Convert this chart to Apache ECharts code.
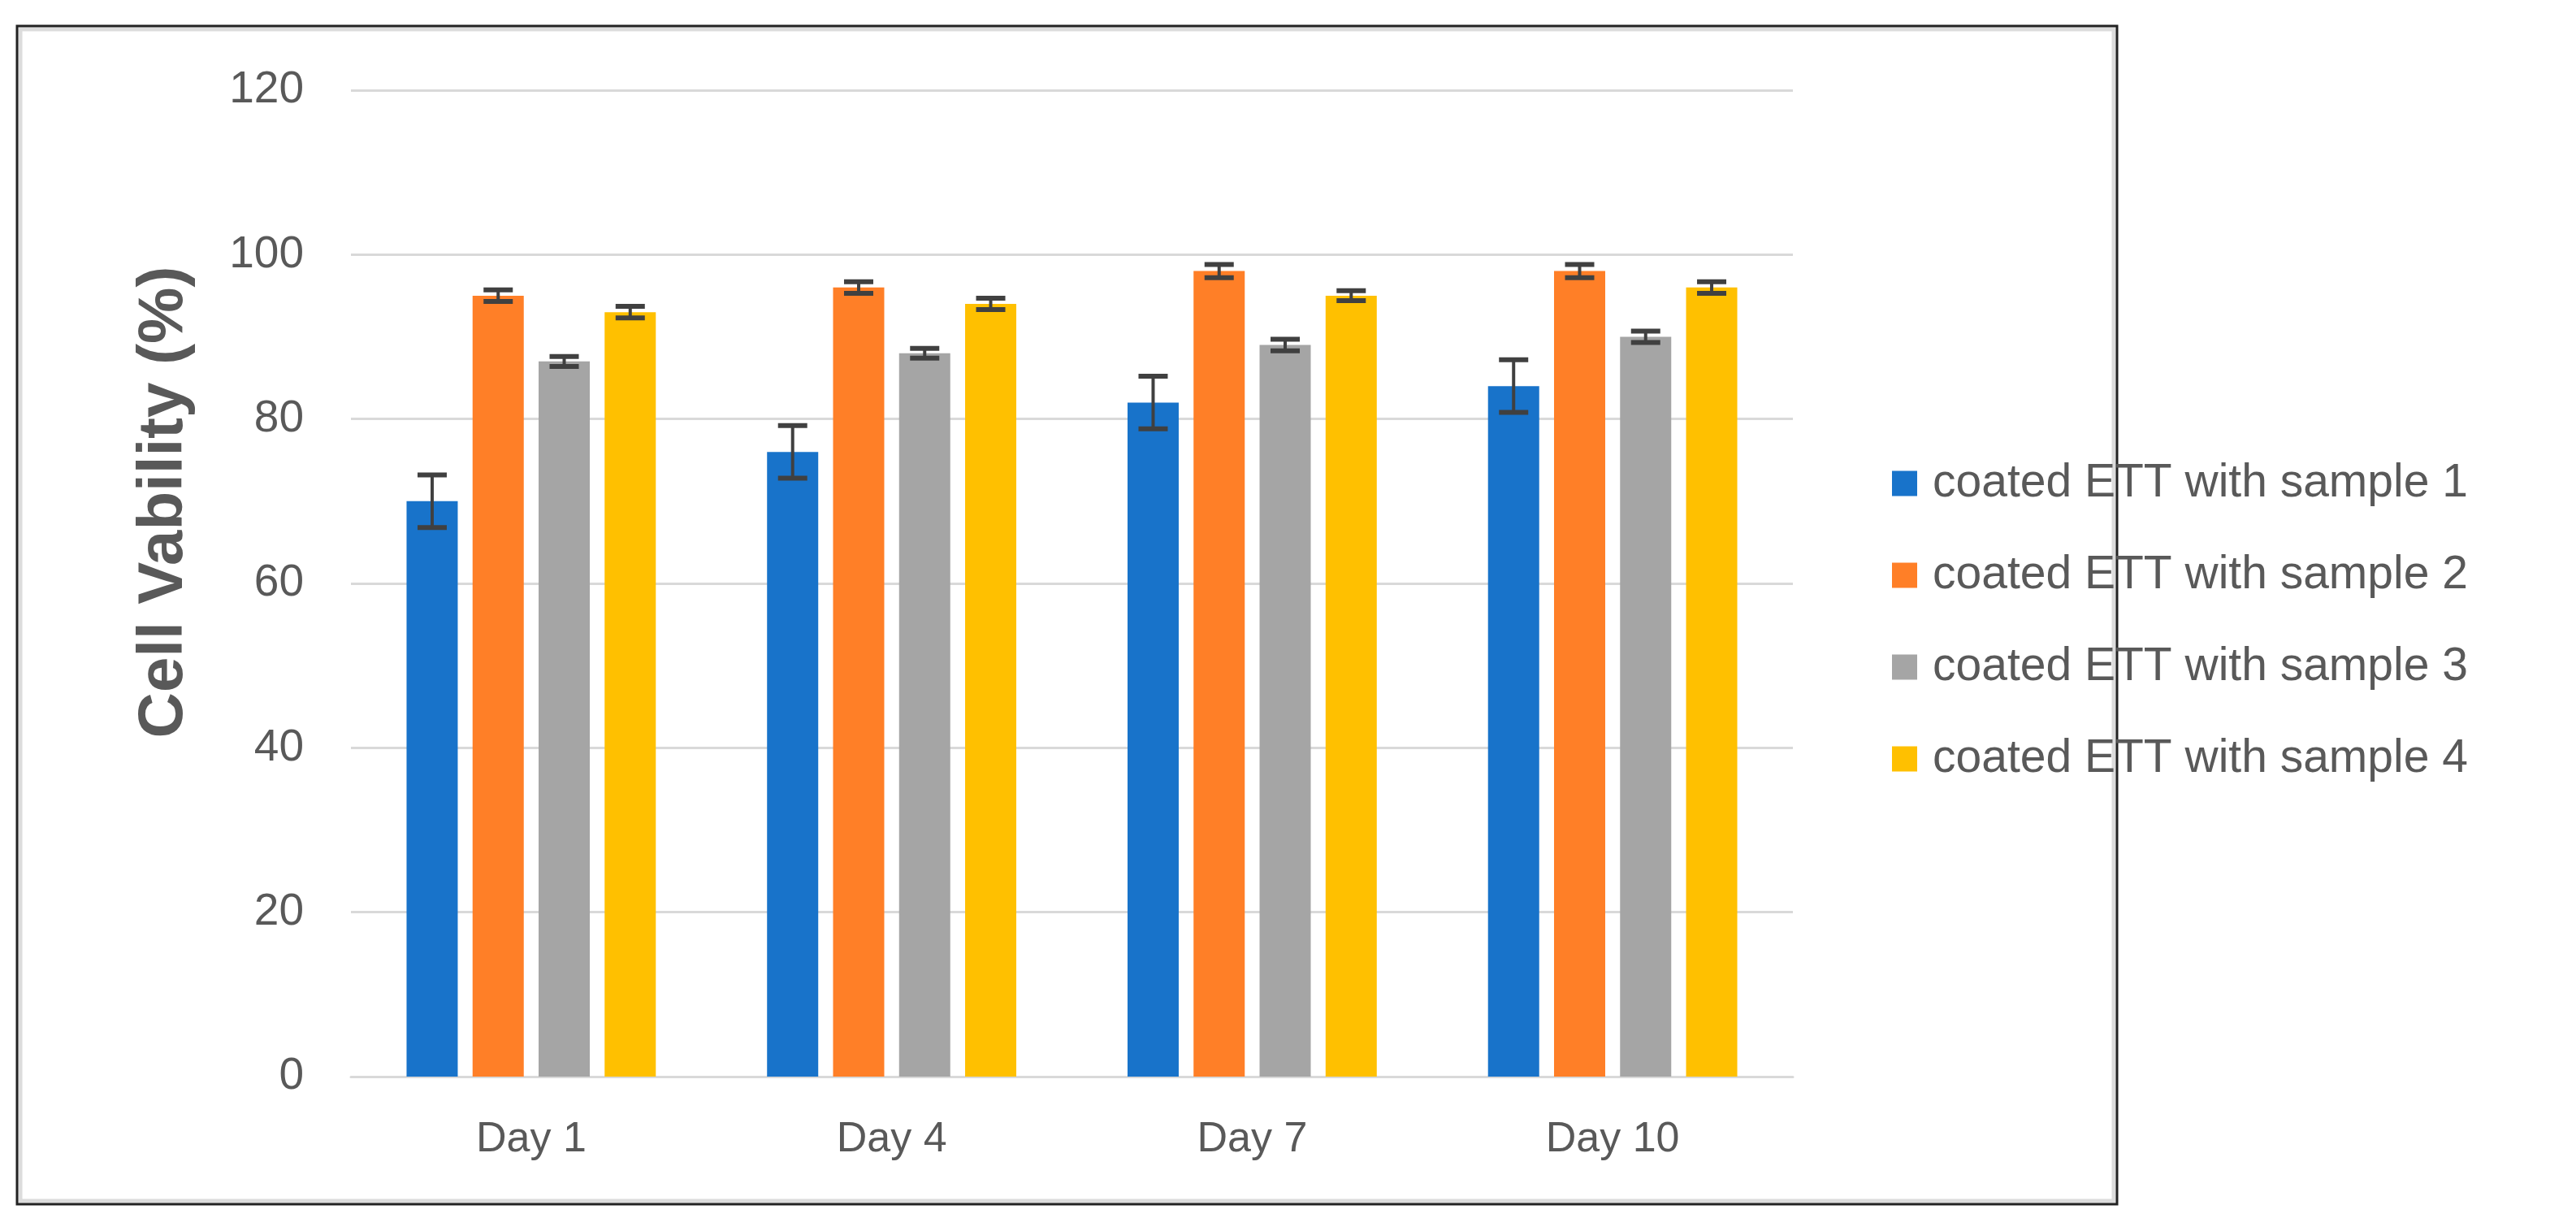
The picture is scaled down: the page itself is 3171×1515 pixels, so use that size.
<!DOCTYPE html>
<html>
<head>
<meta charset="utf-8">
<script src="https://cdn.jsdelivr.net/npm/echarts@6/dist/echarts.min.js"></script>
<style>
  html, body { margin: 0; padding: 0; background: #ffffff; }
  #chart { width: 3171px; height: 1515px; }
</style>
</head>
<body>
<div id="chart"></div>
<script>
// ---- data ----
const categories = ['Day 1', 'Day 4', 'Day 7', 'Day 10'];
const seriesNames = [
  'coated ETT with sample 1',
  'coated ETT with sample 2',
  'coated ETT with sample 3',
  'coated ETT with sample 4'
];
const sample1 = [70, 76, 82, 84];
const sample2 = [95, 96, 98, 98];
const sample3 = [87, 88, 89, 90];
const sample4 = [93, 94, 95, 96];
const err1 = [3.2, 3.2, 3.2, 3.2];
const err2 = [0.7, 0.7, 0.8, 0.8];
const err3 = [0.6, 0.6, 0.7, 0.7];
const err4 = [0.7, 0.7, 0.6, 0.7];
const yTicks = { min: 0, max: 120, interval: 20 };
const yTitle = 'Cell Vability (%)';

// ---- styles ----
const colors = ['#1873CA', '#FF7F27', '#A5A5A5', '#FFC000'];
const FONT = "'Liberation Sans', Arial, sans-serif";
const BAR_W = 63;
const BAR_GAP = 0.29;

const values = [sample1, sample2, sample3, sample4];
const errors = [err1, err2, err3, err4];

const chart = echarts.init(document.getElementById('chart'), null, { renderer: 'canvas' });

const barSeries = values.map((vals, i) => ({
  name: seriesNames[i],
  type: 'bar',
  data: vals,
  barWidth: BAR_W,
  barGap: (BAR_GAP * 100) + '%',
  itemStyle: { color: colors[i] },
  z: 2
}));

const errSeries = values.map((vals, i) => ({
  name: 'err' + (i + 1),
  type: 'custom',
  z: 5,
  silent: true,
  encode: { x: 0, y: 1 },
  data: vals.map((v, k) => [k, v, errors[i][k]]),
  renderItem: function (params, api) {
    const c = api.value(0), v = api.value(1), e = api.value(2);
    const hi = api.coord([c, v + e]);
    const lo = api.coord([c, v - e]);
    const step = BAR_W * (1 + BAR_GAP);
    const cx = hi[0] + (i - 1.5) * step;
    const half = 18;
    return {
      type: 'group',
      children: [
        { type: 'line', shape: { x1: cx, y1: hi[1], x2: cx, y2: lo[1] }, style: { stroke: '#404040', lineWidth: 4 } },
        { type: 'line', shape: { x1: cx - half, y1: hi[1], x2: cx + half, y2: hi[1] }, style: { stroke: '#404040', lineWidth: 6 } },
        { type: 'line', shape: { x1: cx - half, y1: lo[1], x2: cx + half, y2: lo[1] }, style: { stroke: '#404040', lineWidth: 6 } }
      ]
    };
  }
}));

const option = {
  backgroundColor: '#ffffff',
  animation: false,
  textStyle: { fontFamily: FONT },
  grid: { left: 432, right: 964, top: 111, bottom: 190, containLabel: false },
  legend: {
    data: seriesNames,
    orient: 'vertical',
    left: 2324,
    top: 560,
    itemWidth: 31,
    itemHeight: 31,
    itemGap: 53,
    icon: 'rect',
    textStyle: { fontFamily: FONT, fontSize: 57, color: '#595959', lineHeight: 60, padding: [0, 0, 0, 14] }
  },
  xAxis: {
    type: 'category',
    data: categories,
    axisLine: { show: true, lineStyle: { color: '#D9D9D9', width: 3 } },
    axisTick: { show: false },
    axisLabel: { fontFamily: FONT, fontSize: 52, color: '#595959', margin: 52 }
  },
  yAxis: {
    type: 'value',
    min: yTicks.min,
    max: yTicks.max,
    interval: yTicks.interval,
    axisLine: { show: false },
    axisTick: { show: false },
    axisLabel: { fontFamily: FONT, fontSize: 55, color: '#595959', margin: 58 },
    splitLine: { show: true, lineStyle: { color: '#D9D9D9', width: 3 } }
  },
  graphic: [
    { type: 'rect', shape: { x: 25, y: 36, width: 2577, height: 1442 }, style: { fill: 'none', stroke: '#DCDCDC', lineWidth: 5 }, z: 0, silent: true },
    { type: 'rect', shape: { x: 21, y: 32, width: 2585, height: 1450 }, style: { fill: 'none', stroke: '#222222', lineWidth: 3 }, z: 1, silent: true },
    {
      type: 'text', x: 202, y: 618, rotation: Math.PI / 2,
      style: {
        text: yTitle, fontFamily: FONT, fontSize: 78, fontWeight: 'bold', fill: '#595959',
        textAlign: 'center', textVerticalAlign: 'middle'
      },
      z: 10
    }
  ],
  series: barSeries.concat(errSeries)
};

chart.setOption(option);
</script>
</body>
</html>
